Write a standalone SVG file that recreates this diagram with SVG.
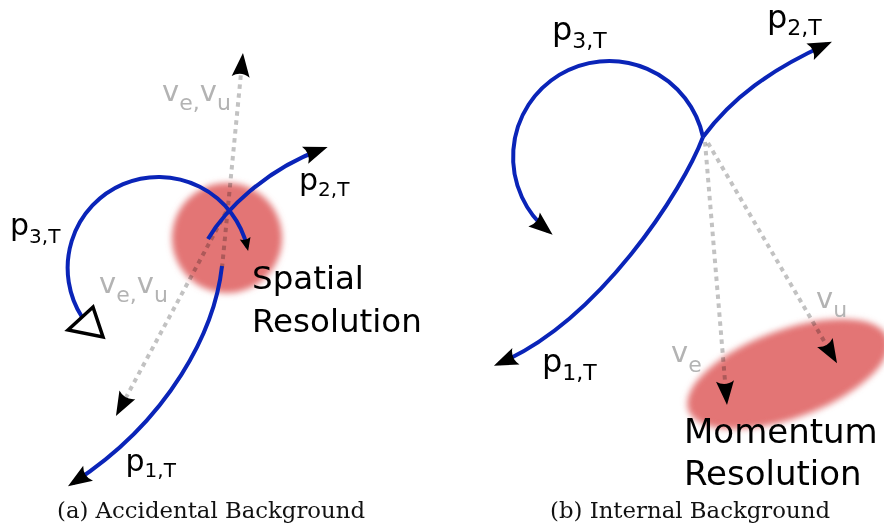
<svg xmlns="http://www.w3.org/2000/svg" width="884" height="532" viewBox="0 0 884 532">
<style>
.track{fill:none;stroke:#0a24b8;stroke-width:4;}
.dot{fill:none;stroke:#c2c2c2;stroke-width:4;stroke-dasharray:4.5 4.5;mix-blend-mode:multiply;}
.lbl{font-family:"DejaVu Sans",sans-serif;font-size:30px;fill:#000;}
.lblR{font-family:"DejaVu Sans",sans-serif;font-size:32px;fill:#000;}
.v{font-family:"DejaVu Sans",sans-serif;font-size:29px;fill:#b3b3b3;}
.big{font-family:"DejaVu Sans",sans-serif;fill:#000;}
.cap{font-family:"DejaVu Serif",serif;font-size:22.5px;fill:#111;}
.blob{fill:#e37474;}
</style>
<defs>
<marker id="ah" markerUnits="userSpaceOnUse" orient="auto" markerWidth="40" markerHeight="40" refX="0" refY="0" viewBox="-20 -20 40 40" overflow="visible">
<path d="M6,0 L-18,-9 Q-12,0 -18,9 Z" fill="#000"/>
</marker>
<marker id="ahs" markerUnits="userSpaceOnUse" orient="auto" markerWidth="20" markerHeight="20" refX="0" refY="0" viewBox="-10 -10 20 20" overflow="visible">
<path d="M4,0 L-9,-5.5 Q-6,0 -9,5.5 Z" fill="#000"/>
</marker>
<filter id="blur" x="-30%" y="-30%" width="160%" height="160%">
<feGaussianBlur stdDeviation="3"/>
</filter>
</defs>

<g id="spatial-resolution-blob">
<circle class="blob" cx="227" cy="238" r="55" filter="url(#blur)"/>
</g>
<g id="momentum-resolution-blob">
<ellipse class="blob" cx="788" cy="374" rx="106" ry="44" transform="rotate(-20 788 374)" filter="url(#blur)"/>
</g>

<g id="connectors">
<path class="dot" d="M222,268 L242.4,59" marker-end="url(#ah)"/>
<path class="dot" d="M226,212 L118.8,410.7" marker-end="url(#ah)"/>
<path class="dot" d="M705,142 L726.5,399" marker-end="url(#ah)"/>
<path class="dot" d="M708,143 L834,358" marker-end="url(#ah)"/>
<path class="track" d="M82,317 A91,91 0 1 1 247.2,247" marker-end="url(#ahs)"/>
<path class="track" d="M208,239 C225,210 265,170 322,149" marker-end="url(#ah)"/>
<path class="track" d="M222,266 C215,330 170,420 73,483" marker-end="url(#ah)"/>
<path class="track" d="M703,137 A96,96 0 1 0 548,231" marker-end="url(#ah)"/>
<path class="track" d="M703,137 C732,98 770,70 826.5,44.3" marker-end="url(#ah)"/>
<path class="track" d="M703,137 C683,190 600,320 499.4,363.4" marker-end="url(#ah)"/>
</g>

<g id="open-triangle">
<polygon points="68,330 93,307 103,337" fill="#fff" stroke="#000" stroke-width="3.5" stroke-linejoin="miter"/>
</g>

<g id="labels-left">
<text class="lbl" x="10" y="235">p<tspan font-size="20" dy="8">3,T</tspan></text>
<text class="lbl" x="299" y="190">p<tspan font-size="20" dy="6">2,T</tspan></text>
<text class="lbl" x="125.5" y="471">p<tspan font-size="20" dy="6">1,T</tspan></text>
<text class="v" x="162" y="101">v<tspan font-size="22" dy="9">e,</tspan><tspan dy="-9">v</tspan><tspan font-size="22" dy="9">u</tspan></text>
<text class="v" x="99" y="293">v<tspan font-size="22" dy="9">e,</tspan><tspan dy="-9">v</tspan><tspan font-size="22" dy="9">u</tspan></text>
<text class="big" font-size="32.5" x="252" y="289">Spatial</text>
<text class="big" font-size="32.5" x="252" y="332">Resolution</text>
<text class="cap" x="57" y="518" textLength="308" lengthAdjust="spacingAndGlyphs">(a) Accidental Background</text>
</g>

<g id="labels-right">
<text class="lblR" x="552" y="40">p<tspan font-size="22" dy="8">3,T</tspan></text>
<text class="lblR" x="767" y="28">p<tspan font-size="22" dy="7">2,T</tspan></text>
<text class="lblR" x="542" y="372">p<tspan font-size="22" dy="8">1,T</tspan></text>
<text class="v" x="671" y="362">v<tspan font-size="22" dy="10">e</tspan></text>
<text class="v" x="816" y="308">v<tspan font-size="22" dy="9">u</tspan></text>
<text class="big" font-size="34" x="684" y="443">Momentum</text>
<text class="big" font-size="34" x="684" y="485">Resolution</text>
<text class="cap" x="550" y="518" textLength="280" lengthAdjust="spacingAndGlyphs">(b) Internal Background</text>
</g>
</svg>
